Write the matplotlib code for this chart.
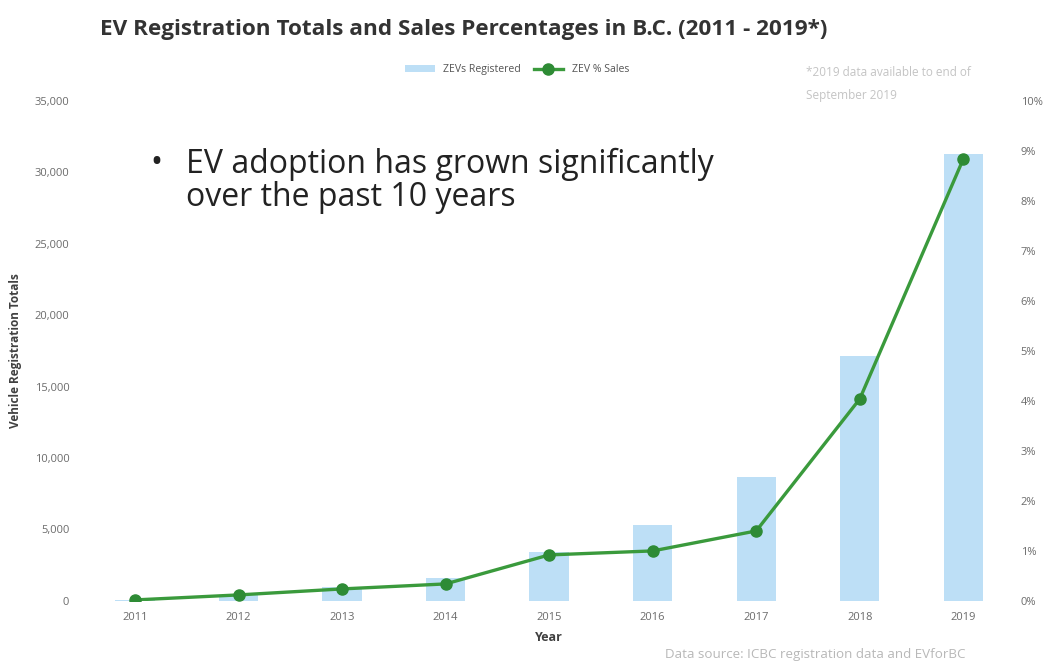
import matplotlib.pyplot as plt
from matplotlib.ticker import FuncFormatter

# data
years = ['2011', '2012', '2013', '2014', '2015', '2016', '2017', '2018', '2019']
zevs_registered = [60, 420, 1000, 1600, 3400, 5330, 8700, 17150, 31250]
zev_pct_sales = [0.02, 0.12, 0.24, 0.34, 0.92, 1.0, 1.4, 4.04, 8.84]

BAR_COLOR = '#bddff6'
LINE_COLOR = '#3a9a3c'
MARKER_COLOR = '#2e8b35'
TICK_COLOR = '#6b6b6b'

plt.rcParams['font.family'] = ['Open Sans', 'DejaVu Sans']

fig = plt.figure(figsize=(10.53, 6.64), dpi=100)
ax = fig.add_axes([0.079, 0.095, 0.885, 0.753])
ax2 = ax.twinx()

x = range(len(years))
bars = ax.bar(x, zevs_registered, width=0.38, color=BAR_COLOR, label='ZEVs Registered', zorder=1)
line, = ax2.plot(x, zev_pct_sales, color=LINE_COLOR, lw=2.4, marker='o', ms=8,
                 mfc=MARKER_COLOR, mec=MARKER_COLOR, label='ZEV % Sales', zorder=3)

ax.set_xlim(-0.5, len(years) - 0.5)
ax.set_ylim(0, 35000)
ax2.set_ylim(0, 10)
ax.set_yticks(range(0, 35001, 5000))
ax2.set_yticks(range(0, 11))
ax.yaxis.set_major_formatter(FuncFormatter(lambda v, p: f'{int(v):,}'))
ax2.yaxis.set_major_formatter(FuncFormatter(lambda v, p: f'{int(v)}%'))
ax.set_xticks(list(x))
ax.set_xticklabels(years)

for a in (ax, ax2):
    for s in a.spines.values():
        s.set_visible(False)
    a.tick_params(length=0, labelsize=8, colors=TICK_COLOR)
ax.tick_params(axis='y', pad=10)
ax.tick_params(axis='x', pad=8)
ax2.tick_params(axis='y', pad=4)

ax.set_xlabel('Year', fontsize=9, fontweight='bold', color='#404040', labelpad=6)
ax.set_ylabel('Vehicle Registration Totals', fontsize=8.5, fontweight='bold',
              color='#404040', labelpad=9)

# title and notes
fig.text(0.095, 0.955, 'EV Registration Totals and Sales Percentages in B.C. (2011 - 2019*)',
         fontsize=16.2, fontweight='bold', color='#333333', va='center')
fig.legend(handles=[bars, line], loc='center', bbox_to_anchor=(0.491, 0.895), ncol=2,
           frameon=False, fontsize=7.6, handlelength=2.8, columnspacing=1.2,
           labelcolor='#555555')
fig.text(0.765, 0.873, '*2019 data available to end of\nSeptember 2019', fontsize=8.5,
         color='#c4c4c4', va='center', linespacing=2.0)
fig.text(0.632, 0.015, 'Data source: ICBC registration data and EVforBC', fontsize=9.6,
         color='#b8b8b8', va='center')

# callout
fig.text(0.143, 0.778, '•', fontsize=23, color='#222222', va='top')
fig.text(0.177, 0.778, 'EV adoption has grown significantly\nover the past 10 years',
         fontsize=23, color='#222222', va='top', linespacing=1.0)

fig.savefig('out.png', dpi=100)
